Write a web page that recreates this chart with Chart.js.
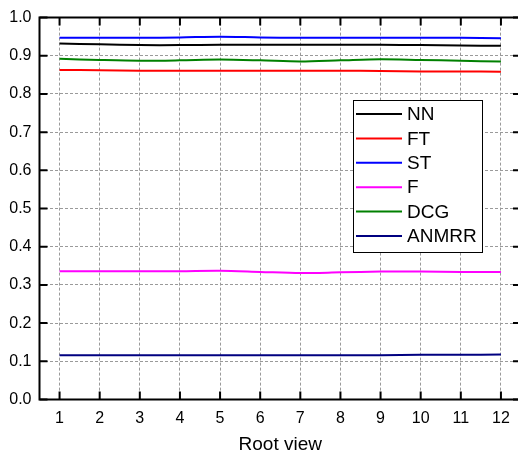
<!DOCTYPE html>
<html>
<head>
<meta charset="utf-8">
<script src="https://cdn.jsdelivr.net/npm/chart.js@4/dist/chart.umd.min.js"></script>
<style>
  html, body { margin: 0; padding: 0; background: #fff; overflow: hidden; }
  #wrap { width: 522px; height: 458px; }
</style>
</head>
<body>
<div id="wrap"><canvas id="c"></canvas></div>
<script>
const categories = ['1','2','3','4','5','6','7','8','9','10','11','12'];
const yTickValues = [0, 0.1, 0.2, 0.3, 0.4, 0.5, 0.6, 0.7, 0.8, 0.9, 1.0];
const xTitle = 'Root view';

const seriesNames = ['NN', 'FT', 'ST', 'F', 'DCG', 'ANMRR'];
const nnValues    = [0.932, 0.930, 0.928, 0.928, 0.929, 0.929, 0.929, 0.929, 0.929, 0.928, 0.927, 0.926];
const ftValues    = [0.863, 0.862, 0.861, 0.861, 0.861, 0.861, 0.861, 0.861, 0.860, 0.859, 0.859, 0.858];
const stValues    = [0.947, 0.947, 0.947, 0.948, 0.950, 0.948, 0.947, 0.947, 0.947, 0.947, 0.947, 0.946];
const fValues     = [0.336, 0.336, 0.336, 0.336, 0.337, 0.334, 0.331, 0.333, 0.335, 0.335, 0.334, 0.334];
const dcgValues   = [0.892, 0.889, 0.887, 0.888, 0.890, 0.888, 0.885, 0.888, 0.891, 0.889, 0.887, 0.885];
const anmrrValues = [0.116, 0.116, 0.116, 0.116, 0.116, 0.116, 0.116, 0.116, 0.116, 0.117, 0.117, 0.118];

const seriesValues = [nnValues, ftValues, stValues, fValues, dcgValues, anmrrValues];
const seriesColors = ['#000000', '#ff0000', '#0000ff', '#ff00ff', '#008000', '#000080'];

const FONT = "'Liberation Sans', Arial, sans-serif";

const framePlugin = {
  id: 'frame',
  afterDatasetsDraw(chart) {
    const {ctx, chartArea: a, scales: {x, y}} = chart;
    ctx.save();
    ctx.strokeStyle = '#000';
    ctx.lineWidth = 2;
    ctx.beginPath();
    ctx.rect(a.left, a.top, a.right - a.left, a.bottom - a.top);
    ctx.stroke();
    const tl = 8;
    ctx.beginPath();
    yTickValues.forEach(v => {
      const py = y.getPixelForValue(v);
      ctx.moveTo(a.left, py); ctx.lineTo(a.left + tl, py);
      ctx.moveTo(a.right, py); ctx.lineTo(a.right - tl, py);
    });
    categories.forEach((c, i) => {
      const px = x.getPixelForValue(i);
      ctx.moveTo(px, a.bottom); ctx.lineTo(px, a.bottom - tl);
      ctx.moveTo(px, a.top); ctx.lineTo(px, a.top + tl);
    });
    ctx.stroke();

    // legend box
    const bx = 353.5, by = 100.5, bw = 129, bh = 152;
    ctx.fillStyle = '#fff';
    ctx.fillRect(bx, by, bw, bh);
    ctx.lineWidth = 1;
    ctx.strokeStyle = '#000';
    ctx.strokeRect(bx, by, bw, bh);
    ctx.font = '19px ' + FONT;
    ctx.textBaseline = 'middle';
    ctx.textAlign = 'left';
    chart.data.datasets.forEach((ds, i) => {
      const ry = 114 + i * 24.4;
      ctx.strokeStyle = ds.borderColor;
      ctx.lineWidth = 2;
      ctx.beginPath();
      ctx.moveTo(356, ry); ctx.lineTo(402, ry);
      ctx.stroke();
      ctx.fillStyle = '#000';
      ctx.fillText(ds.label, 407, ry + 1);
    });
    ctx.restore();
  }
};

new Chart(document.getElementById('c'), {
  type: 'line',
  data: {
    labels: categories,
    datasets: seriesNames.map((n, i) => ({
      label: n,
      data: seriesValues[i],
      borderColor: seriesColors[i],
      backgroundColor: seriesColors[i],
      borderWidth: 2,
      pointRadius: 0,
      tension: 0.3,
      fill: false
    }))
  },
  options: {
    responsive: true,
    maintainAspectRatio: false,
    animation: false,
    devicePixelRatio: 1,
    layout: { padding: { top: 12, right: 1, left: 0, bottom: 0 } },
    plugins: { legend: { display: false }, tooltip: { enabled: false } },
    scales: {
      x: {
        type: 'category',
        offset: true,
        afterFit(s) { s.height = 58.5; },
        grid: { color: '#9a9a9a', lineWidth: 1, drawTicks: false, offset: false },
        border: { display: false, dash: [3, 2] },
        ticks: { color: '#000', padding: 9, font: { family: FONT, size: 16 }, maxRotation: 0, autoSkip: false },
        title: { display: true, text: xTitle, color: '#000', font: { family: FONT, size: 19 }, padding: { top: 0, bottom: 2 } }
      },
      y: {
        min: 0, max: 1,
        afterFit(s) { s.width = 39.5; },
        afterBuildTicks(s) { s.ticks = yTickValues.map(v => ({ value: v })); },
        grid: { color: '#9a9a9a', lineWidth: 1, drawTicks: false },
        border: { display: false, dash: [3, 2] },
        ticks: { color: '#000', padding: 8, font: { family: FONT, size: 16 }, callback: v => Number(v).toFixed(1) }
      }
    }
  },
  plugins: [framePlugin]
});
</script>
</body>
</html>
